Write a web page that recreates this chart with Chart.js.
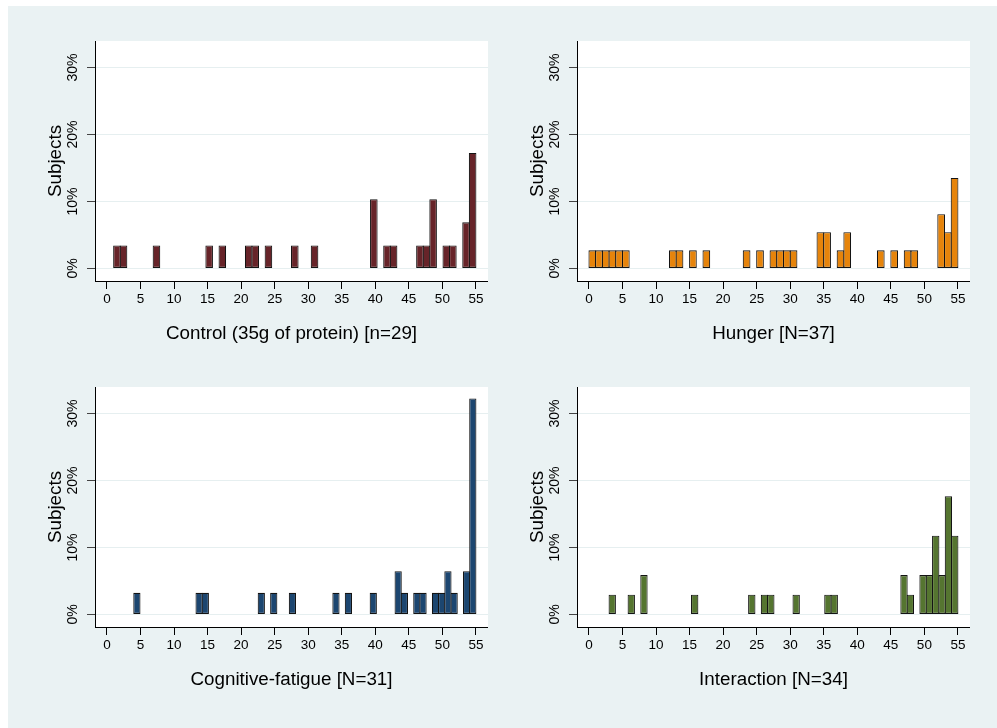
<!DOCTYPE html>
<html>
<head>
<meta charset="utf-8">
<script src="https://cdn.jsdelivr.net/npm/chart.js@4.4.1/dist/chart.umd.min.js"></script>
<style>
  html, body { margin: 0; padding: 0; background: #ffffff; width: 997px; height: 728px; overflow: hidden; }
  #bg { position: absolute; left: 8px; top: 6px; right: 0; bottom: 0; background: #eaf2f3; }
  canvas { position: absolute; }
</style>
</head>
<body>
<div id="bg"></div>
<canvas id="c1"></canvas>
<canvas id="c2"></canvas>
<canvas id="c3"></canvas>
<canvas id="c4"></canvas>
<script>
// Axis labels
const xTicks = [0, 5, 10, 15, 20, 25, 30, 35, 40, 45, 50, 55];
const yTicks = [0, 10, 20, 30];
const yTitle = 'Subjects';

// Group titles
const titles = [
  'Control (35g of protein) [n=29]',
  'Hunger [N=37]',
  'Cognitive-fatigue [N=31]',
  'Interaction [N=34]'
];

// Score range (min, max) of each group; each histogram uses 55 equal bins over it
const controlRange = [1, 55];
const hungerRange = [0, 55];
const fatigueRange = [4, 55];
const interactionRange = [3, 55];

// Number of subjects per bin
const controlCounts = [
  1, 1, 0, 0, 0, 0, 1, 0, 0, 0,
  0, 0, 0, 0, 1, 0, 1, 0, 0, 0,
  1, 1, 0, 1, 0, 0, 0, 1, 0, 0,
  1, 0, 0, 0, 0, 0, 0, 0, 0, 3,
  0, 1, 1, 0, 0, 0, 1, 1, 3, 0,
  1, 1, 0, 2, 5
];
const hungerCounts = [
  1, 1, 1, 1, 1, 1, 0, 0, 0, 0,
  0, 0, 1, 1, 0, 1, 0, 1, 0, 0,
  0, 0, 0, 1, 0, 1, 0, 1, 1, 1,
  1, 0, 0, 0, 2, 2, 0, 1, 2, 0,
  0, 0, 0, 1, 0, 1, 0, 1, 1, 0,
  0, 0, 3, 2, 5
];
const fatigueCounts = [
  1, 0, 0, 0, 0, 0, 0, 0, 0, 0,
  1, 1, 0, 0, 0, 0, 0, 0, 0, 0,
  1, 0, 1, 0, 0, 1, 0, 0, 0, 0,
  0, 0, 1, 0, 1, 0, 0, 0, 1, 0,
  0, 0, 2, 1, 0, 1, 1, 0, 1, 1,
  2, 1, 0, 2, 10
];
const interactionCounts = [
  1, 0, 0, 1, 0, 2, 0, 0, 0, 0,
  0, 0, 0, 1, 0, 0, 0, 0, 0, 0,
  0, 0, 1, 0, 1, 1, 0, 0, 0, 1,
  0, 0, 0, 0, 1, 1, 0, 0, 0, 0,
  0, 0, 0, 0, 0, 0, 2, 1, 0, 2,
  2, 4, 2, 6, 4
];

// Layout
const FONT = "'Liberation Sans', Arial, Helvetica, sans-serif";
const PLOT_W = 393, PLOT_H = 240;
const Y_AXIS_W = 60, X_AXIS_H = 70;
const X_MIN = -1.78, X_MAX = 56.8;
const Y_MIN = -1.87, Y_MAX = 33.96;

const plotFill = {
  id: 'plotFill',
  beforeDraw(chart) {
    const { ctx, chartArea: a } = chart;
    ctx.save();
    ctx.fillStyle = '#ffffff';
    ctx.fillRect(a.left, a.top, a.right - a.left, a.bottom - a.top);
    ctx.restore();
  }
};

function histogram(id, left, top, title, range, counts, color) {
  const canvas = document.getElementById(id);
  canvas.width = Y_AXIS_W + PLOT_W;
  canvas.height = PLOT_H + X_AXIS_H;
  canvas.style.left = (left - Y_AXIS_W) + 'px';
  canvas.style.top = top + 'px';

  const n = counts.reduce((a, b) => a + b, 0);
  const binW = (range[1] - range[0]) / counts.length;
  const points = counts.map((c, k) => ({
    x: range[0] + (k + 0.5) * binW,
    y: c > 0 ? c / n * 100 : null
  }));
  const binPx = PLOT_W / (X_MAX - X_MIN) * binW;

  return new Chart(canvas, {
    type: 'bar',
    data: {
      datasets: [{
        data: points,
        backgroundColor: color,
        borderColor: '#141414',
        borderWidth: 1.1,
        borderSkipped: false,
        grouped: false,
        categoryPercentage: 1,
        barPercentage: (binPx + 1) / binPx
      }]
    },
    options: {
      responsive: false,
      animation: false,
      devicePixelRatio: 1,
      layout: { padding: 0 },
      plugins: { legend: { display: false }, tooltip: { enabled: false } },
      scales: {
        x: {
          type: 'linear',
          min: X_MIN,
          max: X_MAX,
          offset: false,
          afterBuildTicks: s => { s.ticks = xTicks.map(v => ({ value: v })); },
          afterFit: s => { s.height = X_AXIS_H; s.paddingLeft = 0; s.paddingRight = 0; },
          grid: { offset: false, drawOnChartArea: false, tickLength: 8, tickColor: '#000000', tickWidth: 1 },
          border: { color: '#000000', width: 1 },
          ticks: { padding: 2, autoSkip: false, maxRotation: 0, color: '#000000', font: { family: FONT, size: 13.5 } },
          title: { display: true, text: title, color: '#000000', font: { family: FONT, size: 18.8 }, padding: { top: 0, bottom: 5.5 } }
        },
        y: {
          type: 'linear',
          min: Y_MIN,
          max: Y_MAX,
          afterBuildTicks: s => { s.ticks = yTicks.map(v => ({ value: v })); },
          afterFit: s => { s.width = Y_AXIS_W; s.paddingTop = 0; s.paddingBottom = 0; },
          grid: { color: '#e6eff0', lineWidth: 1, tickLength: 8, tickColor: '#444444', tickWidth: 1 },
          border: { color: '#000000', width: 1 },
          ticks: {
            padding: 0, minRotation: 90, maxRotation: 90, crossAlign: 'center',
            color: '#000000', font: { family: FONT, size: 14 },
            callback: v => v + '%'
          },
          title: { display: true, text: yTitle, color: '#000000', font: { family: FONT, size: 18.8 }, padding: { top: 9.2, bottom: 0 } }
        }
      }
    },
    plugins: [plotFill]
  });
}

histogram('c1', 95, 41, titles[0], controlRange, controlCounts, '#672429');
histogram('c2', 577, 41, titles[1], hungerRange, hungerCounts, '#e6840b');
histogram('c3', 95, 387, titles[2], fatigueRange, fatigueCounts, '#1c4670');
histogram('c4', 577, 387, titles[3], interactionRange, interactionCounts, '#557530');
</script>
</body>
</html>
